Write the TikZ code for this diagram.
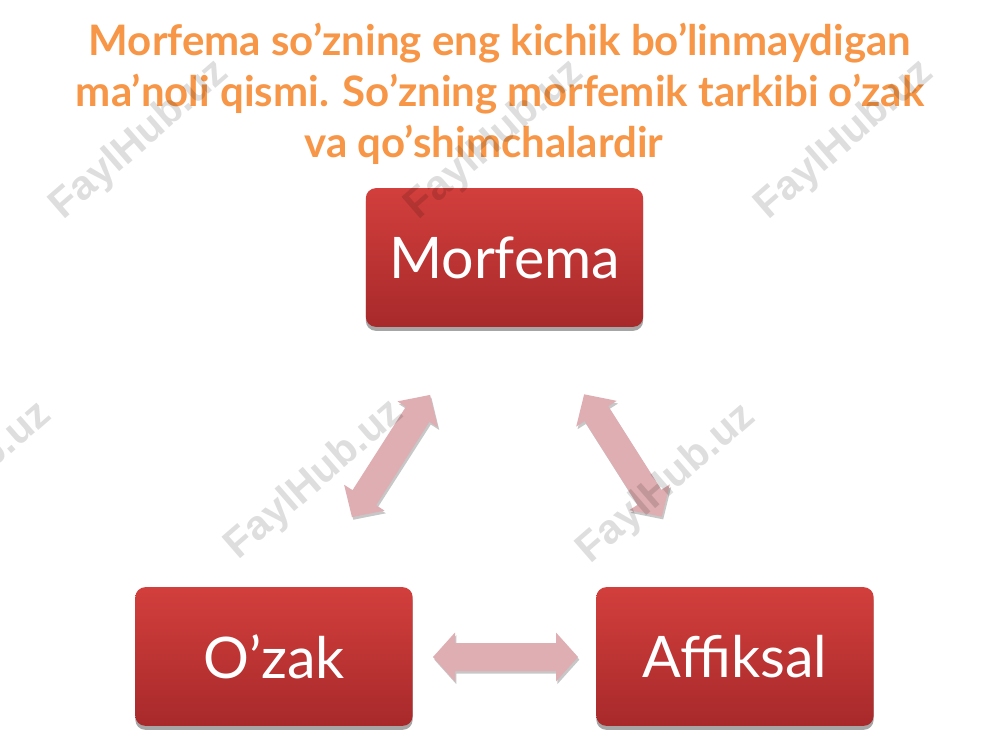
\documentclass[tikz,border=0pt]{standalone}
\usepackage{fontspec}
\setmainfont{Lato}
\newfontfamily\wmfont{Liberation Sans}
\usetikzlibrary{shadows}
\definecolor{titleorange}{HTML}{F79646}
\definecolor{boxtop}{HTML}{D23F3C}
\definecolor{boxbot}{HTML}{A8292B}
\definecolor{arrowpink}{HTML}{DEAEB2}
\begin{document}
\begin{tikzpicture}[x=0.75pt,y=-0.75pt,
  box/.style={rounded corners=7.5pt, top color=boxtop, bottom color=boxbot,
    draw=none, minimum width=208pt, minimum height=104pt, inner sep=0pt,
    text=white, font=\fontsize{43}{52}\selectfont,
    drop shadow={shadow xshift=0pt, shadow yshift=-3pt, opacity=0.35, fill=black}},
  dblarrow/.style={fill=arrowpink, draw=none,
    drop shadow={shadow xshift=1pt, shadow yshift=-2pt, opacity=0.22, fill=black}},
  titletext/.style={text=titleorange, align=center, inner sep=0pt,
    font=\bfseries\fontsize{31.5}{38.2}\selectfont},
  wm/.style={rotate=41, text=black, text opacity=0.13, inner sep=0pt,
    font=\wmfont\bfseries\fontsize{31}{31}\selectfont}
]
\useasboundingbox (0,0) rectangle (1000,750);
\fill[white] (0,0) rectangle (1000,750);

% title
\node[titletext] (title) at (500,93.5)
  {Morfema so’zning eng kichik bo’linmaydigan\\
   ma’noli qismi. So’zning morfemik tarkibi o’zak\\
   va qo’shimchalardir\hspace*{24pt}};

% boxes
\node[box] (morfema) at (504.5,257.5) {Morfema};
\node[box] (ozak) at (274,656.5) {O’zak};
\node[box] (affiksal) at (735,656.5) {Affiksal};

% double arrows
\begin{scope}[shift={(391,456)}, rotate=57.4]
  \fill[dblarrow] (-72.5,0) -- (-49.5,-24) -- (-49.5,-14) -- (49.5,-14) -- (49.5,-24)
    -- (72.5,0) -- (49.5,24) -- (49.5,14) -- (-49.5,14) -- (-49.5,24) -- cycle;
\end{scope}
\begin{scope}[shift={(623,455.5)}, rotate=-57.6]
  \fill[dblarrow] (-72.5,0) -- (-49.5,-24) -- (-49.5,-14) -- (49.5,-14) -- (49.5,-24)
    -- (72.5,0) -- (49.5,24) -- (49.5,14) -- (-49.5,14) -- (-49.5,24) -- cycle;
\end{scope}
\begin{scope}[shift={(505.5,657)}]
  \fill[dblarrow] (-72.5,0) -- (-50.5,-24.5) -- (-50.5,-14) -- (50.5,-14) -- (50.5,-24.5)
    -- (72.5,0) -- (50.5,24.5) -- (50.5,14) -- (-50.5,14) -- (-50.5,24.5) -- cycle;
\end{scope}

% watermarks
\node[wm] (wm1) at (140,140) {FaylHub.uz};
\node[wm] (wm2) at (495,140) {FaylHub.uz};
\node[wm] (wm3) at (845,140) {FaylHub.uz};
\node[wm] (wm4) at (-37,482) {FaylHub.uz};
\node[wm] (wm5) at (315,480) {FaylHub.uz};
\node[wm] (wm6) at (667,484) {FaylHub.uz};
\end{tikzpicture}
\end{document}
